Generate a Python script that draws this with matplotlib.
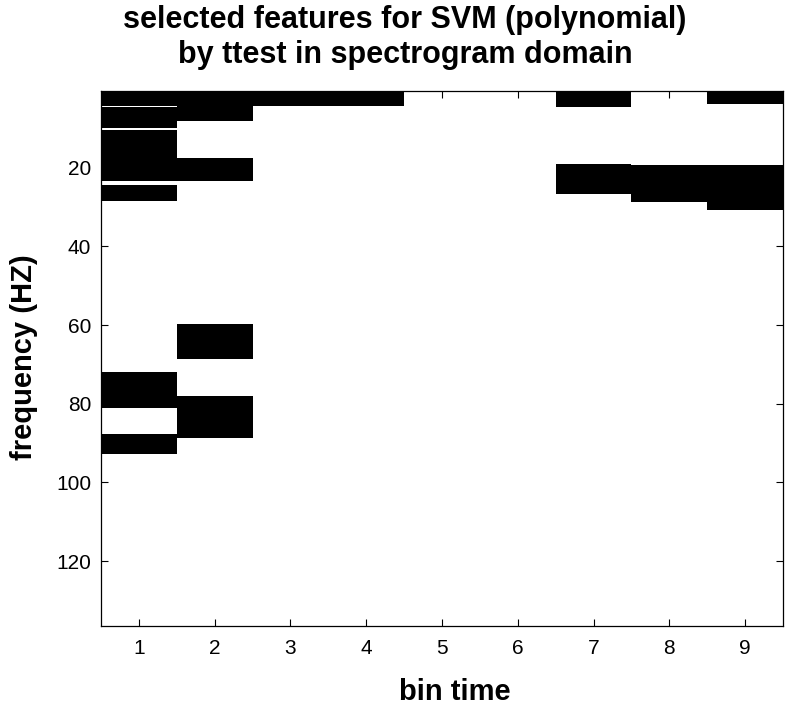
import matplotlib
matplotlib.use("Agg")
import matplotlib.pyplot as plt

plt.rcParams['font.family'] = ['Liberation Sans', 'DejaVu Sans']

# selected feature blocks: (bin time, frequency start, frequency end)
seg_bin = [1, 1, 1, 1, 1, 1,
           2, 2, 2, 2,
           3, 4,
           7, 7,
           8,
           9, 9]
seg_start = [0.5, 4.6, 10.4, 24.5, 72.0, 87.8,
             0.5, 17.6, 59.7, 78.0,
             0.5, 0.5,
             0.5, 19.0,
             19.4,
             0.5, 19.4]
seg_end = [4.2, 9.8, 23.5, 28.5, 81.1, 92.9,
           8.0, 23.4, 68.7, 88.8,
           4.4, 4.4,
           4.5, 26.6,
           28.6,
           3.7, 30.7]

x_ticks = [1, 2, 3, 4, 5, 6, 7, 8, 9]
y_ticks = [20, 40, 60, 80, 100, 120]

W, H = 786, 708
fig = plt.figure(figsize=(W / 100, H / 100), dpi=100)
ax = fig.add_axes([101 / W, 1 - 626 / H, (783 - 101) / W, (626 - 91) / H])

heights = [e - s for s, e in zip(seg_start, seg_end)]
ax.bar(seg_bin, heights, bottom=seg_start, width=1.0, color='black',
       edgecolor='none', linewidth=0)

ax.set_xlim(0.5, 9.5)
ax.set_ylim(136.5, 0.5)
ax.set_xticks(x_ticks)
ax.set_yticks(y_ticks)
ax.tick_params(direction='in', length=5, width=0.8, top=True, right=True,
               labelsize=15)
ax.tick_params(axis='x', pad=9)
ax.tick_params(axis='y', pad=7)
for sp in ax.spines.values():
    sp.set_linewidth(0.9)

fig.text(455 / W, 1 - 700 / H, 'bin time', fontsize=21, fontweight='bold',
         ha='center', va='baseline')
fig.text(24 / W, 1 - 357 / H, 'frequency (HZ)', fontsize=21, fontweight='bold',
         ha='center', va='center', rotation=90)
fig.text(405 / W, 1 - 28 / H, 'selected features for SVM (polynomial)',
         fontsize=22, fontweight='bold', ha='center', va='baseline')
fig.text(405 / W, 1 - 63 / H, 'by ttest in spectrogram domain',
         fontsize=22, fontweight='bold', ha='center', va='baseline')

fig.savefig('out.png', dpi=100)
